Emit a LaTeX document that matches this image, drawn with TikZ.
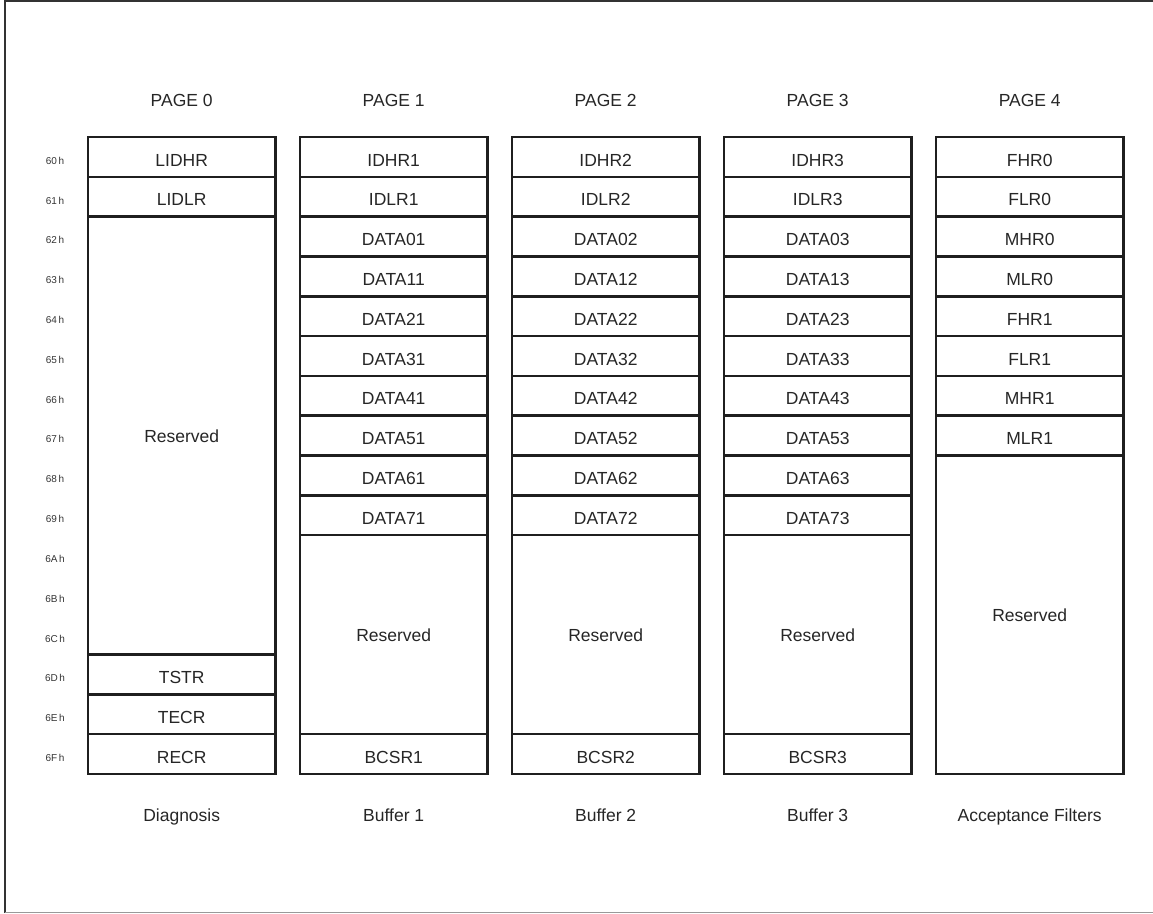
\documentclass[tikz,border=0pt]{standalone}
\usepackage{fontspec}
\setmainfont{Liberation Sans}
\tikzset{
  cellbox/.style={draw=black!88, line width=2.6pt, minimum width=187.5pt, inner sep=0pt,
    text height=18.4pt, text depth=0pt, text=black!85, font=\fontsize{17.5}{20}\selectfont},
  bigbox/.style={cellbox, text height=13.5pt},
  addr/.style={font=\fontsize{10}{12}\selectfont, text=black!80, anchor=base, inner sep=0pt},
  head/.style={font=\fontsize{17.5}{20}\selectfont, text=black!85, anchor=base, inner sep=0pt},
}
% name, column, first row, last row, style, text
\newcommand\regcell[6]{%
  \node[#5, minimum height={((#4)-(#3)+1)*39.81pt}] (#1) at ({181.7+212*(#2)},{137+39.81*((#3)+(#4)+1)/2}) {#6};}
\begin{document}
\begin{tikzpicture}[x=1pt,y=-1pt]
\useasboundingbox (0,0) rectangle (1153,913);
% frame
\draw[line width=2pt, black!80] (4.5,913) -- (4.5,1.3) -- (1153,1.3);
\draw[line width=1.3pt, black!40] (4.5,912.2) -- (1153,912.2);
% page headings and captions
\foreach \c/\cap in {0/Diagnosis,1/Buffer 1,2/Buffer 2,3/Buffer 3,4/Acceptance Filters}{
  \node[head] (page\c) at ({181.7+212*\c},106) {PAGE \c};
  \node[head] (cap\c) at ({181.7+212*\c},821) {\cap};
}
% addresses
\foreach \h [count=\i from 0] in {0,1,2,3,4,5,6,7,8,9,A,B,C,D,E,F}{
  \node[addr] (addr\i) at (55,{137+39.81*\i+27.3}) {6\h\kern1.5pt h};
}
% page 0
\regcell{c0r0}{0}{0}{0}{cellbox}{LIDHR}
\regcell{c0r1}{0}{1}{1}{cellbox}{LIDLR}
\regcell{c0r2}{0}{2}{12}{bigbox}{Reserved}
\regcell{c0r13}{0}{13}{13}{cellbox}{TSTR}
\regcell{c0r14}{0}{14}{14}{cellbox}{TECR}
\regcell{c0r15}{0}{15}{15}{cellbox}{RECR}
% pages 1-3
\foreach \c in {1,2,3}{
  \regcell{c\c r0}{\c}{0}{0}{cellbox}{IDHR\c}
  \regcell{c\c r1}{\c}{1}{1}{cellbox}{IDLR\c}
  \foreach \d in {0,...,7}{
    \regcell{c\c d\d}{\c}{\d+2}{\d+2}{cellbox}{DATA\d\c}
  }
  \regcell{c\c r10}{\c}{10}{14}{bigbox}{Reserved}
  \regcell{c\c r15}{\c}{15}{15}{cellbox}{BCSR\c}
}
% page 4
\foreach \t [count=\i from 0] in {FHR0,FLR0,MHR0,MLR0,FHR1,FLR1,MHR1,MLR1}{
  \regcell{c4r\i}{4}{\i}{\i}{cellbox}{\t}
}
\regcell{c4r8}{4}{8}{15}{bigbox}{Reserved}
\end{tikzpicture}
\end{document}
